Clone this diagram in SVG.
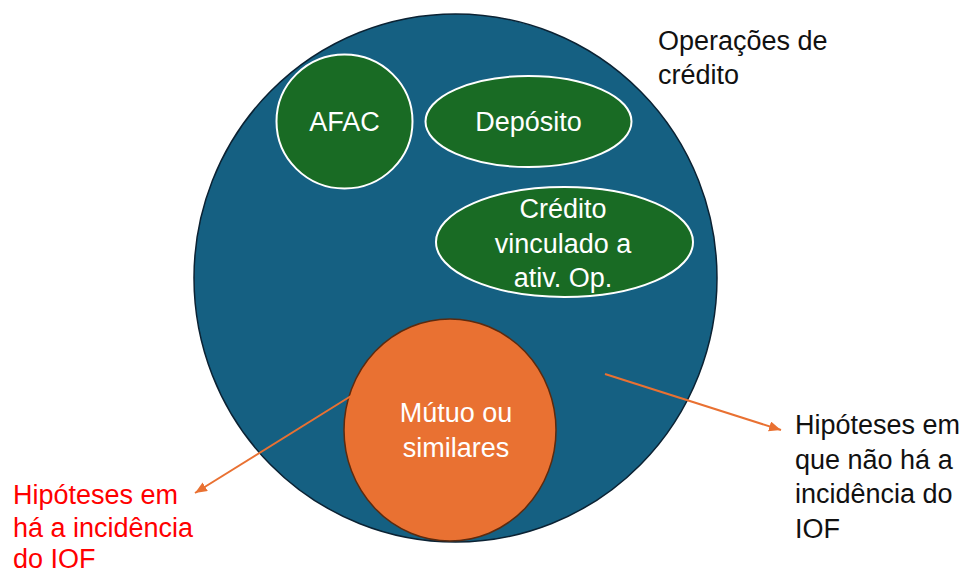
<svg xmlns="http://www.w3.org/2000/svg" width="970" height="572" viewBox="0 0 970 572">
<style>
text{font-family:"Liberation Sans",Arial,sans-serif;font-size:27px}
.w{fill:#ffffff;text-anchor:middle}
.k{fill:#111111}
.r{fill:#ff0000}
.green{fill:#196B24;stroke:#ffffff;stroke-width:2}
.conn{stroke:#E97132;stroke-width:2;fill:none;marker-end:url(#ah)}
</style>
<defs>
<marker id="ah" markerUnits="userSpaceOnUse" markerWidth="14" markerHeight="12" refX="12" refY="5" orient="auto">
<path d="M0,0 L12,5 L0,10 Z" fill="#E97132"/>
</marker>
</defs>
<rect width="970" height="572" fill="#ffffff"/>
<g id="operacoes">
<ellipse cx="455.5" cy="278" rx="261.5" ry="264" fill="#156082" stroke="#0b2233" stroke-width="1.5"/>
<text class="k" x="658" y="50">Operações de</text>
<text class="k" x="658" y="84">crédito</text>
</g>
<g id="afac">
<ellipse class="green" cx="344.5" cy="121.5" rx="68" ry="67"/>
<text class="w" x="344.5" y="131">AFAC</text>
</g>
<g id="deposito">
<ellipse class="green" cx="528.5" cy="121.5" rx="103" ry="45.5"/>
<text class="w" x="528.5" y="131">Depósito</text>
</g>
<g id="credito">
<ellipse class="green" cx="564.5" cy="242" rx="128.5" ry="55"/>
<text class="w" x="563" y="218">Crédito</text>
<text class="w" x="563" y="253">vinculado a</text>
<text class="w" x="563" y="287">ativ. Op.</text>
</g>
<g id="mutuo">
<ellipse cx="450" cy="430" rx="106" ry="111" fill="#E97132" stroke="#5c2a0e" stroke-width="1.5"/>
<text class="w" x="456" y="422">Mútuo ou</text>
<text class="w" x="456" y="457">similares</text>
</g>
<g id="nao-incide">
<text class="k" x="795" y="434">Hipóteses em</text>
<text class="k" x="795" y="468.5">que não há a</text>
<text class="k" x="795" y="503">incidência do</text>
<text class="k" x="795" y="537.5">IOF</text>
</g>
<g id="incide">
<text class="r" x="13" y="504">Hipóteses em</text>
<text class="r" x="13" y="537">há a incidência</text>
<text class="r" x="13" y="568">do IOF</text>
</g>
<g id="connectors">
<line class="conn" x1="605" y1="374" x2="781" y2="430"/>
<line class="conn" x1="351" y1="396" x2="195" y2="493"/>
</g>
</svg>
